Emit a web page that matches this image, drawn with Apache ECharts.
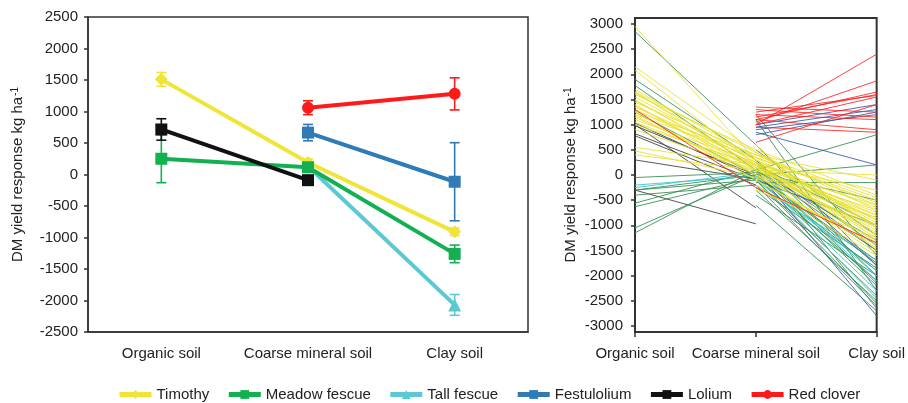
<!DOCTYPE html>
<html>
<head>
<meta charset="utf-8">
<script src="https://cdn.jsdelivr.net/npm/echarts@6/dist/echarts.min.js"></script>
<style>html,body{margin:0;padding:0;background:#fff}#c{width:908px;height:403px}</style>
</head>
<body>
<div id="c"></div>
<script>
// ---- data ----
var categories = ['Organic soil', 'Coarse mineral soil', 'Clay soil'];
var leftYTicks = [-2500, -2000, -1500, -1000, -500, 0, 500, 1000, 1500, 2000, 2500];
var rightYTicks = [-3000, -2500, -2000, -1500, -1000, -500, 0, 500, 1000, 1500, 2000, 2500, 3000];

var speciesNames = ['Timothy', 'Meadow fescue', 'Tall fescue', 'Festulolium', 'Lolium', 'Red clover'];

// left panel: means and error (±) per soil
var timothyMean = [1510, 190, -910];
var timothyErr = [110, 55, 60];
var meadowMean = [250, 115, -1260];
var meadowErr = [380, 50, 140];
var tallMean = [null, 130, -2070];
var tallErr = [null, 40, 165];
var festMean = [null, 665, -115];
var festErr = [null, 130, 620];
var loliumMean = [715, -90, null];
var loliumErr = [170, 50, null];
var redMean = [null, 1060, 1280];
var redErr = [null, 110, 255];

// right panel: individual responses [organic, coarse, clay]
var timothyLines = [
  [2950, 300, -900], [2150, 450, -700], [2080, 200, -1200], [1700, 350, -500],
  [1650, 150, -1000], [1600, 500, -400], [1550, 250, -800], [1500, 100, -1100],
  [1450, 400, -600], [1400, 0, -1300], [1350, 300, -900], [1300, 200, -750],
  [1250, -100, -1400], [1200, 350, -550], [1150, 50, -1050], [1100, 250, -650],
  [1050, 150, -1150], [550, 200, -300], [480, -50, -1000], [400, 100, 0],
  [1620, 300, -950], [1480, 200, -1250], [1380, 100, -850], [1270, 400, -450],
  [1180, 0, -1550], [1650, 450, -1050], [1000, 200, -1200], [900, 100, -800],
  [null, 600, -1500], [null, -200, -1600], [null, 400, -100], [null, 0, -850],
  [null, -300, -1250], [null, 250, -1350], [null, 100, -700], [null, 350, -1000],
  [null, -100, -1450], [null, 150, -600]
];
var meadowLines = [
  [2850, 600, -1800], [1900, 300, -2000], [1780, 100, -1500], [1250, 0, -1700],
  [-50, 50, -2200], [-300, -100, -2400], [-300, 0, -1900], [-400, -200, -2600],
  [-560, 100, -1300], [-630, -50, -2100], [-1050, 0, null], [-1150, 100, null],
  [null, 1200, -1600], [null, 1100, -2300], [null, 100, 800], [null, -150, -150],
  [null, 0, 200], [null, -600, -2700], [null, 200, -1000], [null, -300, -2500],
  [null, 500, -1200], [null, 300, -2650], [null, -400, -2000], [null, 0, -1750],
  [null, 150, -2150], [null, -100, -2550], [null, 250, -1400], [null, -250, -1850],
  [null, 50, -500]
];
var tallLines = [
  [-200, -20, -2450], [-250, 50, null], [null, 100, -2000], [null, -100, -1900],
  [null, 0, -2300], [null, 150, -2100], [null, -200, -1700]
];
var festLines = [
  [null, 1000, 1400], [null, 950, 1300], [null, 900, 1200], [null, 850, 200],
  [null, 800, 1250], [null, 300, -1800], [null, 100, -2800], [null, -100, -1000],
  [null, 200, -1500]
];
var loliumLines = [
  [1030, -50, null], [980, 0, null], [820, -100, null], [780, -200, null],
  [300, -80, null], [-300, -970, null], [1000, -650, null]
];
var redLines = [
  [null, 1000, 2400], [null, 1050, 1870], [null, 1100, 1650], [null, 1150, 1600],
  [null, 1000, 1550], [null, 1350, 1250], [null, 1300, 1150], [null, 1200, 1100],
  [null, 1100, 900], [null, 950, 850], [null, 650, 1400], [1300, -250, -1350],
  [null, 1250, 1580]
];

// ---- styles ----
var FONT = 'Liberation Sans, Arial, sans-serif';
var TXT = '#222';
var leftColors = {
  'Timothy': '#EFE537', 'Meadow fescue': '#12B050', 'Tall fescue': '#5CC8D3',
  'Festulolium': '#2E7BB8', 'Lolium': '#111111', 'Red clover': '#FF1A1A'
};
var rightColors = {
  'Timothy': '#E9E02E', 'Meadow fescue': '#2E8C4E', 'Tall fescue': '#35BFCC',
  'Festulolium': '#3556A8', 'Lolium': '#3a3a3a', 'Red clover': '#FF2020'
};
var symbols = {
  'Timothy': 'diamond', 'Meadow fescue': 'rect', 'Tall fescue': 'triangle',
  'Festulolium': 'rect', 'Lolium': 'rect', 'Red clover': 'circle'
};
var symbolSizes = {
  'Timothy': 13, 'Meadow fescue': 12, 'Tall fescue': 13,
  'Festulolium': 12, 'Lolium': 12, 'Red clover': 12
};

var leftData = {
  'Timothy': [timothyMean, timothyErr], 'Meadow fescue': [meadowMean, meadowErr],
  'Tall fescue': [tallMean, tallErr], 'Festulolium': [festMean, festErr],
  'Lolium': [loliumMean, loliumErr], 'Red clover': [redMean, redErr]
};
var rightData = {
  'Timothy': timothyLines, 'Meadow fescue': meadowLines, 'Tall fescue': tallLines,
  'Festulolium': festLines, 'Lolium': loliumLines, 'Red clover': redLines
};

var series = [];
// right panel lines (drawn first)
['Lolium', 'Meadow fescue', 'Tall fescue', 'Festulolium', 'Timothy', 'Red clover'].forEach(function (sp) {
  rightData[sp].forEach(function (row, i) {
    series.push({
      name: sp + ' line ' + i, type: 'line', xAxisIndex: 2, yAxisIndex: 1,
      data: row, connectNulls: true, symbol: 'none', silent: true,
      lineStyle: { width: 1, color: rightColors[sp], opacity: 0.85 },
      itemStyle: { color: rightColors[sp] }, z: 2
    });
  });
});

// left panel
var drawOrder = ['Tall fescue', 'Timothy', 'Meadow fescue', 'Festulolium', 'Lolium', 'Red clover'];
drawOrder.forEach(function (sp, k) {
  var mean = leftData[sp][0], err = leftData[sp][1];
  var errData = [];
  for (var i = 0; i < mean.length; i++) {
    if (mean[i] !== null && err[i] !== null) errData.push([i, mean[i] - err[i], mean[i] + err[i]]);
  }
  var col = leftColors[sp];
  series.push({
    name: sp + ' err', type: 'custom', xAxisIndex: 0, yAxisIndex: 0, silent: true, z: 3 + k,
    data: errData,
    renderItem: function (params, api) {
      var x = api.value(0);
      var lo = api.coord([x, api.value(1)]);
      var hi = api.coord([x, api.value(2)]);
      var w = 5;
      var st = { stroke: col, lineWidth: 1.6 };
      return { type: 'group', children: [
        { type: 'line', shape: { x1: lo[0], y1: lo[1], x2: hi[0], y2: hi[1] }, style: st },
        { type: 'line', shape: { x1: lo[0] - w, y1: lo[1], x2: lo[0] + w, y2: lo[1] }, style: st },
        { type: 'line', shape: { x1: hi[0] - w, y1: hi[1], x2: hi[0] + w, y2: hi[1] }, style: st }
      ] };
    }
  });
  series.push({
    name: sp, type: 'line', xAxisIndex: 0, yAxisIndex: 0, data: mean,
    connectNulls: true, symbol: symbols[sp], symbolSize: symbolSizes[sp],
    lineStyle: { width: 4, color: col }, itemStyle: { color: col }, z: 3 + k
  });
});

function plain(v) { return String(v); }
var axisLineStyle = { color: '#333', width: 1.5 };
var labelStyle = { color: TXT, fontSize: 15, fontFamily: FONT };
var yName = 'DM yield response kg ha{sup|-1}';
var nameStyle = {
  color: TXT, fontSize: 15, fontFamily: FONT,
  rich: { sup: { fontSize: 10, fontFamily: FONT, color: TXT, verticalAlign: 'top', padding: [0, 0, 6, 1] } }
};

var option = {
  animation: false,
  backgroundColor: '#fff',
  textStyle: { fontFamily: FONT },
  legend: {
    data: speciesNames, left: 112, top: 382, itemWidth: 32, itemHeight: 11, itemGap: 17,
    lineStyle: { width: 5 },
    textStyle: { color: TXT, fontSize: 15, fontFamily: FONT }, selectedMode: false
  },
  grid: [
    { left: 88, top: 17, width: 440, height: 315, show: true, borderColor: '#333', borderWidth: 1.5 },
    { left: 635, top: 18, width: 259, height: 314, show: true, borderColor: '#333', borderWidth: 2 }
  ],
  xAxis: [
    { type: 'category', gridIndex: 0, data: categories, boundaryGap: true,
      axisLine: { onZero: false, lineStyle: axisLineStyle },
      axisTick: { alignWithLabel: true, length: 5, lineStyle: axisLineStyle },
      axisLabel: Object.assign({ margin: 14, interval: 0 }, labelStyle) },
    { type: 'category', gridIndex: 0, data: [''], boundaryGap: true, position: 'bottom',
      axisLine: { show: false, onZero: false }, axisTick: { length: 5, lineStyle: axisLineStyle }, axisLabel: { show: false } },
    { type: 'category', gridIndex: 1, data: categories, boundaryGap: false,
      axisLine: { onZero: false, lineStyle: { color: '#333', width: 2 } },
      axisTick: { length: 5, lineStyle: axisLineStyle },
      axisLabel: Object.assign({ margin: 14, interval: 0 }, labelStyle) }
  ],
  yAxis: [
    { type: 'value', gridIndex: 0, min: leftYTicks[0], max: leftYTicks[leftYTicks.length - 1], interval: 500,
      splitLine: { show: false }, axisLine: { show: true, lineStyle: axisLineStyle },
      axisTick: { show: true, length: 4, lineStyle: axisLineStyle },
      axisLabel: Object.assign({ margin: 10, formatter: plain }, labelStyle),
      name: yName, nameLocation: 'middle', nameGap: 62, nameTextStyle: nameStyle },
    { type: 'value', gridIndex: 1, min: -3120, max: 3120,
      splitLine: { show: false }, axisLine: { show: true, lineStyle: { color: '#333', width: 2 } },
      axisTick: { show: true, length: 4, lineStyle: axisLineStyle, customValues: rightYTicks },
      axisLabel: Object.assign({ margin: 12, customValues: rightYTicks, formatter: plain }, labelStyle),
      name: yName, nameLocation: 'middle', nameGap: 56, nameTextStyle: nameStyle }
  ],
  series: series
};

var chart = echarts.init(document.getElementById('c'), null, { renderer: 'canvas' });
chart.setOption(option);
</script>
</body>
</html>
